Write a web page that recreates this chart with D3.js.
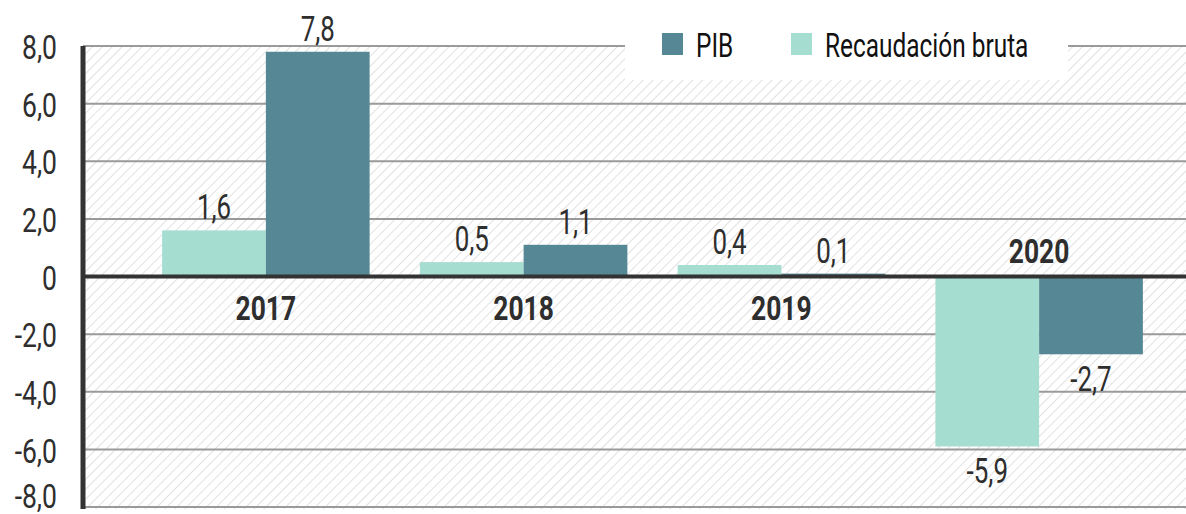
<!DOCTYPE html>
<html>
<head>
<meta charset="utf-8">
<script src="https://cdn.jsdelivr.net/npm/d3@7"></script>
<style>
  body { margin: 0; background: #fff; }
  svg text { font-family: Roboto, "Liberation Sans", sans-serif; }
</style>
</head>
<body>
<div id="chart"></div>
<script>
const years = ["2017", "2018", "2019", "2020"]
const series = ["Recaudación bruta", "PIB"]
const recaudacion = [1.6, 0.5, 0.4, -5.9]
const pib = [7.8, 1.1, 0.1, -2.7]
const yTicks = [-8, -6, -4, -2, 0, 2, 4, 6, 8]
const colors = { "PIB": "#558794", "Recaudación bruta": "#a6ddd1" }

const W = 1186, H = 514
const MARGIN = { LEFT: 83, RIGHT: 0, TOP: 46, BOTTOM: 7 }

// number as "7,8" / "-2,7"
const fmt = v => (v < 0 ? "-" : "") + Math.abs(v).toFixed(1).replace(".", ",")

// condensed look: place text with translate + horizontal squeeze
const place = (sel, fx, fy, sx) =>
  sel.attr("transform", (d, i) => `translate(${fx(d, i)}, ${fy(d, i)}) scale(${sx}, 1)`)

const svg = d3.select("#chart").append("svg")
  .attr("width", W)
  .attr("height", H)

// hatch pattern
const defs = svg.append("defs")
const pat = defs.append("pattern")
  .attr("id", "hatch")
  .attr("patternUnits", "userSpaceOnUse")
  .attr("width", 7)
  .attr("height", 7)
  .attr("patternTransform", "rotate(45)")
pat.append("rect").attr("width", 7).attr("height", 7).attr("fill", "#fff")
pat.append("line")
  .attr("x1", 0).attr("y1", 0).attr("x2", 0).attr("y2", 7)
  .attr("stroke", "#dadada").attr("stroke-width", 1.6)

const y = d3.scaleLinear()
  .domain([-8, 8])
  .range([H - MARGIN.BOTTOM, MARGIN.TOP])

const x = d3.scaleBand()
  .domain(years)
  .range([137, 1168])
  .paddingInner(0.195)
  .paddingOuter(0.0975)

const xSub = d3.scaleBand()
  .domain(series)
  .range([0, x.bandwidth()])

// background
svg.append("rect")
  .attr("x", MARGIN.LEFT)
  .attr("y", y(8))
  .attr("width", W - MARGIN.LEFT)
  .attr("height", y(-8) - y(8) + 2)
  .attr("fill", "url(#hatch)")

// gridlines
svg.append("g")
  .attr("class", "grid")
  .selectAll("line")
  .data(yTicks.filter(d => d !== 0))
  .enter().append("line")
    .attr("x1", MARGIN.LEFT)
    .attr("x2", W)
    .attr("y1", d => y(d))
    .attr("y2", d => y(d))
    .attr("stroke", "#9a9a9a")
    .attr("stroke-width", 2)

// y tick labels
const yLab = svg.append("g")
  .selectAll("text")
  .data(yTicks)
  .enter().append("text")
    .attr("dy", "0.36em")
    .attr("text-anchor", "end")
    .attr("font-size", "34px")
    .attr("fill", "#2e2e2e")
    .text(d => d === 0 ? "0" : fmt(d))
place(yLab, () => 57, d => Math.min(y(d) + 1, H - 18), 0.78)

const data = years.map((yr, i) => ({
  year: yr,
  values: [
    { key: "Recaudación bruta", value: recaudacion[i] },
    { key: "PIB", value: pib[i] }
  ]
}))

const groups = svg.selectAll(".group")
  .data(data)
  .enter().append("g")
    .attr("class", "group")
    .attr("transform", d => `translate(${x(d.year)}, 0)`)

groups.selectAll("rect")
  .data(d => d.values)
  .enter().append("rect")
    .attr("x", d => xSub(d.key))
    .attr("width", xSub.bandwidth())
    .attr("y", d => y(Math.max(0, d.value)))
    .attr("height", d => Math.abs(y(d.value) - y(0)))
    .attr("fill", d => colors[d.key])

const vals = groups.selectAll(".val")
  .data(d => d.values)
  .enter().append("text")
    .attr("class", "val")
    .attr("text-anchor", "middle")
    .attr("font-size", "36px")
    .attr("fill", "#2e2e2e")
    .text(d => fmt(d.value))
place(vals,
  d => xSub(d.key) + xSub.bandwidth() / 2,
  d => d.value >= 0 ? y(d.value) - 11 : y(d.value) + 37,
  0.72)

// category labels
const cats = groups.append("text")
  .attr("text-anchor", "middle")
  .attr("font-size", "33px")
  .attr("font-weight", "bold")
  .attr("fill", "#2e2e2e")
  .text(d => d.year)
place(cats,
  () => x.bandwidth() / 2,
  d => d3.max(d.values, v => v.value) > 0 ? y(0) + 43 : y(0) - 14,
  0.8)

// zero line
svg.append("line")
  .attr("x1", MARGIN.LEFT)
  .attr("x2", W)
  .attr("y1", y(0))
  .attr("y2", y(0))
  .attr("stroke", "#333")
  .attr("stroke-width", 4)

// y axis line
svg.append("line")
  .attr("x1", MARGIN.LEFT)
  .attr("x2", MARGIN.LEFT)
  .attr("y1", y(8))
  .attr("y2", y(-8) + 2)
  .attr("stroke", "#333")
  .attr("stroke-width", 5)

// legend
const legend = svg.append("g")
legend.append("rect")
  .attr("x", 625)
  .attr("y", 0)
  .attr("width", 443)
  .attr("height", 80)
  .attr("fill", "#fff")

const legendItems = [
  { key: "PIB", x: 662 },
  { key: "Recaudación bruta", x: 791 }
]
legendItems.forEach(it => {
  legend.append("rect")
    .attr("x", it.x)
    .attr("y", 33)
    .attr("width", 21)
    .attr("height", 22)
    .attr("fill", colors[it.key])
  legend.append("text")
    .attr("transform", `translate(${it.x + 34}, 57) scale(0.74, 1)`)
    .attr("font-size", "33px")
    .attr("fill", "#111")
    .text(it.key)
})
</script>
</body>
</html>
